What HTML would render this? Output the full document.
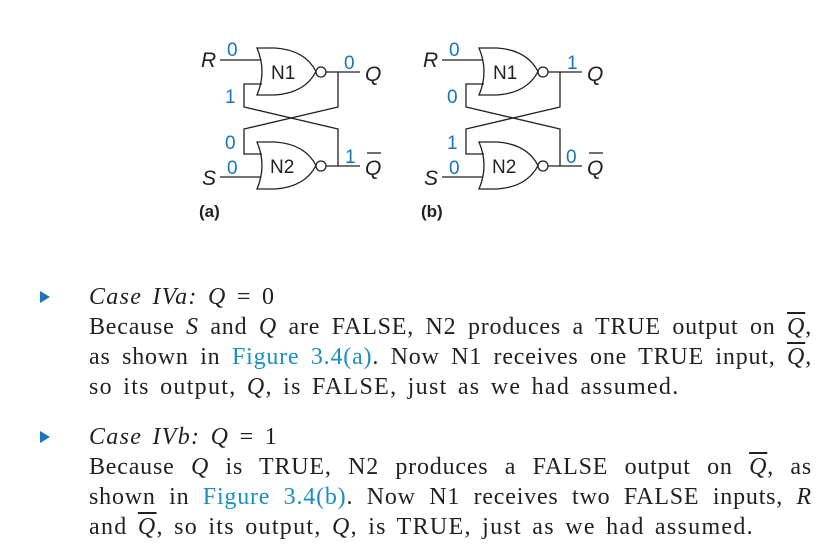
<!DOCTYPE html>
<html><head><meta charset="utf-8"><style>
html,body{margin:0;padding:0;background:#fff;}
body{width:837px;height:554px;position:relative;overflow:hidden;}
.t{position:absolute;left:89px;width:723px;font-family:"Liberation Serif",serif;font-size:24px;letter-spacing:1.3px;word-spacing:3px;color:#231f20;white-space:nowrap;line-height:24px;}
.j{text-align:justify;text-align-last:justify;white-space:normal;letter-spacing:0.8px;word-spacing:0;}
.b{position:absolute;left:40px;width:0;height:0;border-left:10px solid #1a75bb;border-top:6px solid transparent;border-bottom:6px solid transparent;}
.l{color:#1a8fc0;}
.o{text-decoration:overline;}
i{font-style:italic;}
</style></head><body>
<svg width="837" height="260" style="position:absolute;left:0;top:0" xmlns="http://www.w3.org/2000/svg">
<defs>
<g id="ff" fill="none" stroke="#231f20" stroke-width="1.3">
<path d="M257,48 Q267,71.5 257,95 L275,95 Q305,93 316,71.5 Q305,50 275,48 Z"/>
<circle cx="321" cy="72" r="5"/>
<path d="M326,72 H360"/>
<path d="M220,60 H261"/>
<path d="M262,84 H244 V107 L338,129 V166"/>
<path d="M338,72 V107 L244,129 V154 H262"/>
<path d="M257,142 Q267,165.5 257,189 L275,189 Q305,187 316,165.5 Q305,144 275,142 Z"/>
<circle cx="321" cy="166" r="5"/>
<path d="M326,166 H360"/>
<path d="M220,177 H261"/>
</g>
<g id="lb" font-family="Liberation Sans, sans-serif">
<text x="271" y="79" font-size="19" fill="#231f20">N1</text>
<text x="270" y="173" font-size="19" fill="#231f20">N2</text>
<text x="201" y="67" font-size="21" font-style="italic" fill="#231f20">R</text>
<text x="202" y="185" font-size="21" font-style="italic" fill="#231f20">S</text>
<text x="365" y="81" font-size="21" font-style="italic" fill="#231f20">Q</text>
<text x="365" y="175" font-size="21" font-style="italic" fill="#231f20">Q</text>
<path d="M367,153 H381" stroke="#231f20" stroke-width="1.3"/>
</g>
</defs>
<g font-family="Liberation Sans, sans-serif">
<use href="#ff"/><use href="#lb"/>
<text x="199" y="217" font-size="17" font-weight="bold" fill="#231f20">(a)</text>
<g font-size="19" fill="#1a75bb">
<text x="227" y="56">0</text><text x="344" y="69">0</text>
<text x="225" y="103">1</text><text x="225" y="149">0</text>
<text x="227" y="174">0</text><text x="345" y="163">1</text>
</g>
<g transform="translate(222,0)">
<use href="#ff"/><use href="#lb"/>
<text x="199" y="217" font-size="17" font-weight="bold" fill="#231f20">(b)</text>
<g font-size="19" fill="#1a75bb">
<text x="227" y="56">0</text><text x="345" y="69">1</text>
<text x="225" y="103">0</text><text x="225" y="149">1</text>
<text x="227" y="174">0</text><text x="344" y="163">0</text>
</g>
</g>
</g>
</svg>
<div class="b" style="top:291px"></div>
<div class="t" style="top:285px"><i>Case IVa: Q</i> = 0</div>
<div class="t j" style="top:315px">Because <i>S</i> and <i>Q</i> are FALSE, N2 produces a TRUE output on <i class="o">Q</i>,</div>
<div class="t j" style="top:345px">as shown in <span class="l">Figure 3.4(a)</span>. Now N1 receives one TRUE input, <i class="o">Q</i>,</div>
<div class="t" style="top:375px">so its output, <i>Q</i>, is FALSE, just as we had assumed.</div>
<div class="b" style="top:431px"></div>
<div class="t" style="top:425px"><i>Case IVb: Q</i> = 1</div>
<div class="t j" style="top:455px">Because <i>Q</i> is TRUE, N2 produces a FALSE output on <i class="o">Q</i>, as</div>
<div class="t j" style="top:485px">shown in <span class="l">Figure 3.4(b)</span>. Now N1 receives two FALSE inputs, <i>R</i></div>
<div class="t" style="top:515px">and <i class="o">Q</i>, so its output, <i>Q</i>, is TRUE, just as we had assumed.</div>
</body></html>
